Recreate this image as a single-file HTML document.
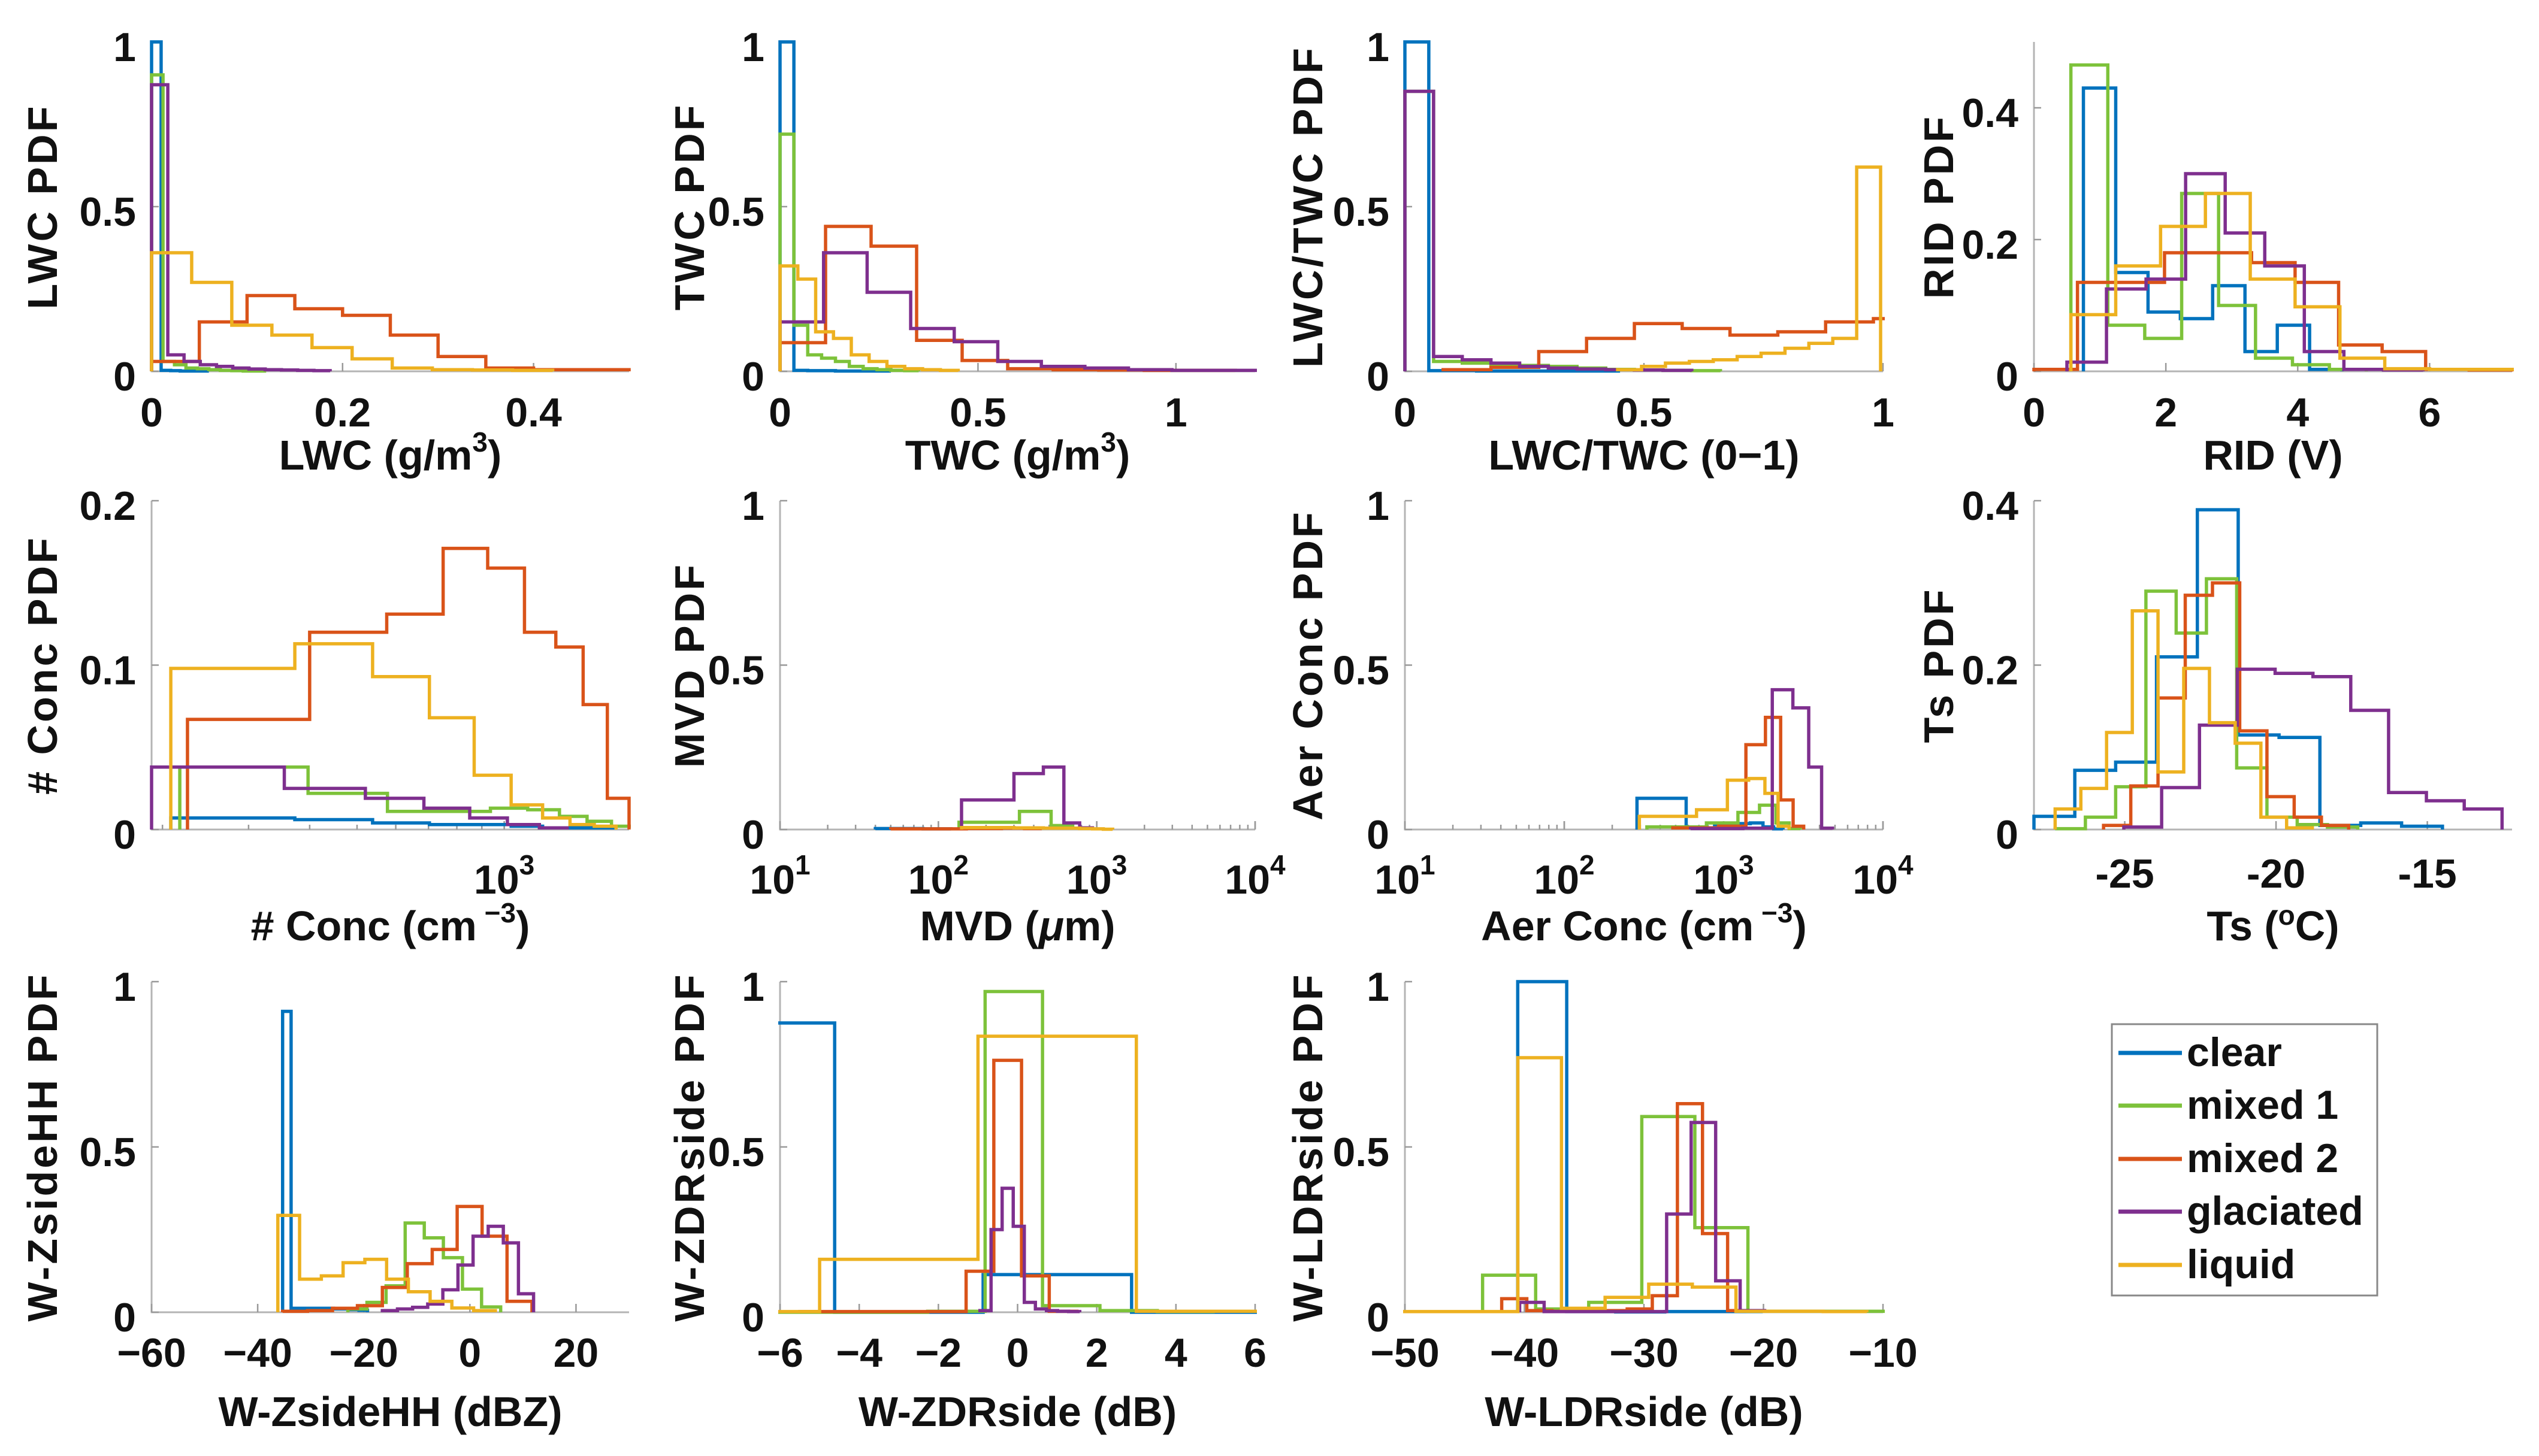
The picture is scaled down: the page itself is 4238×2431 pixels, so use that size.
<!DOCTYPE html>
<html><head><meta charset="utf-8"><title>PDF panels</title>
<style>
html,body{margin:0;padding:0;background:#fff;}
svg{display:block;}
text{font-family:"Liberation Sans",Arial,sans-serif;font-weight:bold;fill:#111;}
</style></head>
<body>
<svg id="fig" width="4238" height="2431" viewBox="0 0 4238 2431" xmlns="http://www.w3.org/2000/svg"></svg>
<script>
// ---------- DATA (order: clear, mixed1, mixed2, glaciated, liquid) ----------
const categories = ['clear','mixed 1','mixed 2','glaciated','liquid'];
// LWC
const lwcBinStart = [0,0,0,0,0];
const lwcBinWidth = [0.01,0.012,0.05,0.017,0.042];
const lwcClear = [1.0,0.003,0.002,0.001,0.001,0.001];
const lwcMixed1 = [0.9,0.03,0.02,0.01,0.008,0.005,0.003,0.002,0.001,0.001];
const lwcMixed2 = [0.03,0.15,0.23,0.19,0.17,0.11,0.045,0.01,0.005,0.005];
const lwcGlaciated = [0.87,0.05,0.03,0.02,0.015,0.01,0.007,0.005,0.004,0.003,0.002];
const lwcLiquid = [0.36,0.27,0.14,0.11,0.072,0.038,0.01,0.005,0.004,0.003];
// TWC
const twcBinStart = [0,0,0,0,0];
const twcBinWidth = [0.035,0.035,0.115,0.11,0.045];
const twcClear = [1.0,0.003,0.002,0.002,0.001,0.001,0.001,0.001];
const twcMixed1 = [0.72,0.14,0.05,0.04,0.03,0.015,0.008,0.005,0.003,0.002];
const twcMixed2 = [0.087,0.44,0.38,0.094,0.033,0.008,0.005,0.004,0.003,0.003];
const twcGlaciated = [0.15,0.36,0.24,0.13,0.09,0.03,0.015,0.01,0.005,0.003,0.003];
const twcLiquid = [0.32,0.28,0.12,0.10,0.05,0.03,0.015,0.008,0.005,0.003];
// LWC/TWC
const ratioBinStart = [0,0,0.08,0,0.445];
const ratioBinWidth = [0.05,0.06,0.1,0.06,0.05];
const ratioClear = [1.0,0.002,0.002,0.001,0.001,0.001,0.001,0.001,0.001];
const ratioMixed1 = [0.85,0.03,0.025,0.02,0.018,0.015,0.01,0.006,0.004,0.003,0.002];
const ratioMixed2 = [0.005,0.012,0.06,0.1,0.145,0.13,0.11,0.12,0.15,0.16];
const ratioGlaciated = [0.85,0.045,0.035,0.025,0.015,0.01,0.007,0.005,0.004,0.003];
const ratioLiquid = [0.005,0.015,0.025,0.03,0.035,0.045,0.055,0.07,0.085,0.1,0.62];
// RID
const ridBinStart = [0.75,0.56,0,0.5,0.56];
const ridBinWidth = [0.49,0.56,0.66,0.6,0.68];
const ridClear = [0.43,0.15,0.09,0.08,0.13,0.03,0.07,0.003];
const ridMixed1 = [0.465,0.07,0.05,0.27,0.1,0.02,0.01,0.003];
const ridMixed2 = [0.003,0.135,0.135,0.18,0.18,0.165,0.135,0.04,0.03,0.003,0.002];
const ridGlaciated = [0.014,0.125,0.14,0.30,0.21,0.16,0.03,0.003,0.002];
const ridLiquid = [0.086,0.16,0.22,0.27,0.14,0.098,0.02,0.004,0.003,0.003];
// # Conc
const concBinStart = [208,217,225,190,208];
const concBinWidth = [165,180,175,165,165];
const concClear = [0.007,0.006,0.004,0.003,0.003,0.002,0.001,0.001,0.001];
const concMixed1 = [0.038,0.022,0.011,0.011,0.013,0.012,0.008,0.005,0.002];
const concMixed2 = [0.067,0.12,0.131,0.171,0.159,0.12,0.111,0.076,0.019];
const concGlaciated = [0.038,0.025,0.019,0.013,0.007,0.003,0.001];
const concLiquid = [0.098,0.113,0.093,0.068,0.033,0.015,0.007,0.003,0.002];
// MVD
const mvdBinStart = [40,135,50,140,140];
const mvdBinWidth = [40,190,100,160,160];
const mvdClear = [0.003,0.002];
const mvdMixed1 = [0.022,0.055,0.012,0.004];
const mvdMixed2 = [0.002,0.003,0.004,0.003];
const mvdGlaciated = [0.09,0.17,0.19,0.02,0.005];
const mvdLiquid = [0.006,0.005,0.004,0.004,0.003,0.002,0.001];
// Aer Conc
const aerBinStart = [286,330,480,620,296];
const aerBinWidth = [296,450,450,700,380];
const aerClear = [0.095,0.005,0.012,0.018,0.02,0.008,0.002];
const aerMixed1 = [0.008,0.02,0.052,0.074,0.02,0.003];
const aerMixed2 = [0.005,0.01,0.258,0.341,0.09,0.01];
const aerGlaciated = [0.003,0.004,0.425,0.37,0.19,0.004];
const aerLiquid = [0.04,0.06,0.15,0.155,0.11,0.01];
// Ts
const tsBinStart = [-28,-27.3,-25.7,-25.03,-27.3];
const tsBinWidth = [1.35,1,0.9,1.25,0.85];
const tsClear = [0.016,0.072,0.082,0.21,0.389,0.115,0.112,0.005,0.008,0.004];
const tsMixed1 = [0.001,0.015,0.052,0.29,0.239,0.305,0.075,0.015,0.006,0.003];
const tsMixed2 = [0.005,0.053,0.16,0.285,0.3,0.12,0.04,0.015,0.005];
const tsGlaciated = [0.003,0.051,0.127,0.195,0.19,0.186,0.145,0.045,0.035,0.025];
const tsLiquid = [0.025,0.05,0.118,0.266,0.07,0.196,0.13,0.105,0.015,0.002];
// W-ZsideHH
const zhhBinStart = [-35.3,-23,-35.3,-16.5,-36.2];
const zhhBinWidth = [1.6,3.6,4.7,2.85,4.1];
const zhhClear = [0.91,0.012,0.012,0.012,0.012,0.012,0.01,0.01,0.008,0.006];
const zhhMixed1 = [0.01,0.03,0.08,0.27,0.225,0.165,0.07,0.016];
const zhhMixed2 = [0.003,0.005,0.012,0.02,0.075,0.147,0.19,0.32,0.23,0.033];
const zhhGlaciated = [0.005,0.01,0.015,0.025,0.068,0.143,0.23,0.26,0.21,0.056];
const zhhLiquid = [0.293,0.1,0.11,0.15,0.16,0.1,0.062,0.033,0.013,0.005];
// W-ZDRside
const zdrBinStart = [-8.37,-6.62,-5.5,-0.95,-9];
const zdrBinWidth = [3.75,1.45,0.7,0.28,4];
const zdrClear = [0.875,0,0.114,0];
const zdrMixed1 = [0,0,0,0.003,0.97,0.02,0.005,0.002];
const zdrMixed2 = [0.002,0.002,0.002,0.002,0.002,0.002,0.124,0.762,0.11,0.003];
const zdrGlaciated = [0.005,0.25,0.375,0.26,0.03,0.01,0.005,0.003,0.002];
const zdrLiquid = [0.002,0.16,0.835,0.003];
// W-LDRside
const ldrBinStart = [-40.56,-43.5,-41.9,-40.4,-51.5];
const ldrBinWidth = [4.1,4.44,2.1,2.05,3.65];
const ldrClear = [1.0,0.002,0.001,0.002,0.002];
const ldrMixed1 = [0.112,0.01,0.03,0.592,0.256,0.003,0.003,0.003];
const ldrMixed2 = [0.041,0.005,0.003,0.003,0.005,0.01,0.05,0.631,0.238,0.005];
const ldrGlaciated = [0.03,0.002,0.002,0.002,0.002,0.002,0.297,0.574,0.095,0.005];
const ldrLiquid = [0.002,0.002,0.002,0.77,0.012,0.045,0.085,0.076,0.003,0.003,0.002];

// tick label arrays
const ticksLwc = [0,0.2,0.4];
const ticksTwc = [0,0.5,1];
const ticksRatio = [0,0.5,1];
const ticksRid = [0,2,4,6];
const ticksConc = [1000];
const ticksLog = [10,100,1000,10000];
const ticksTs = [-25,-20,-15];
const ticksZhh = [-60,-40,-20,0,20];
const ticksZdr = [-6,-4,-2,0,2,4,6];
const ticksLdr = [-50,-40,-30,-20,-10];
const yTicks1 = [0,0.5,1];
const yTicksRid = [0,0.2,0.4];
const yTicksConc = [0,0.1,0.2];

// ---------- STYLE / LAYOUT ----------
const COLORS = ['#0072BD','#7DC23A','#D95319','#7E2F8E','#EDB120'];
const NS = 'http://www.w3.org/2000/svg';
const svg = document.getElementById('fig');
const COLS = [[253,1050],[1302,2095],[2345,3143],[3395,4193]];
const ROWS = [[70,620],[836,1385],[1639,2191]];
const YLABX = [70,1150,2182,3235];
const TICKOFF = [68,73,67];
const LABOFF = [139,160,165];

function el(tag, parent){ const e=document.createElementNS(NS,tag); parent.appendChild(e); return e; }
function fmt(v, minusHyphen){
  let s = String(v);
  if (v<0) s = (minusHyphen?'-':'\u2212') + String(-v);
  return s;
}

const panels = [
 {id:'lwc', r:0,c:0, xlim:[0,0.5], ylim:[0,1], xt:ticksLwc, yt:yTicks1, start:lwcBinStart, width:lwcBinWidth, series:[lwcClear,lwcMixed1,lwcMixed2,lwcGlaciated,lwcLiquid], xl:'LWC (g/m<tspan dy="-30" font-size="46">3</tspan><tspan dy="30">)</tspan>', yl:'LWC PDF'},
 {id:'twc', r:0,c:1, xlim:[0,1.2], ylim:[0,1], xt:ticksTwc, yt:yTicks1, start:twcBinStart, width:twcBinWidth, series:[twcClear,twcMixed1,twcMixed2,twcGlaciated,twcLiquid], xl:'TWC (g/m<tspan dy="-30" font-size="46">3</tspan><tspan dy="30">)</tspan>', yl:'TWC PDF'},
 {id:'ratio', r:0,c:2, xlim:[0,1], ylim:[0,1], xt:ticksRatio, yt:yTicks1, start:ratioBinStart, width:ratioBinWidth, series:[ratioClear,ratioMixed1,ratioMixed2,ratioGlaciated,ratioLiquid], xl:'LWC/TWC (0\u22121)', yl:'LWC/TWC PDF'},
 {id:'rid', r:0,c:3, xlim:[0,7.25], ylim:[0,0.5], xt:ticksRid, yt:yTicksRid, start:ridBinStart, width:ridBinWidth, series:[ridClear,ridMixed1,ridMixed2,ridGlaciated,ridLiquid], xl:'RID (V)', yl:'RID PDF'},
 {id:'conc', r:1,c:0, xlim:[190,1800], log:true, ylim:[0,0.2], xt:ticksConc, yt:yTicksConc, start:concBinStart, width:concBinWidth, series:[concClear,concMixed1,concMixed2,concGlaciated,concLiquid], xl:'# Conc (cm<tspan dy="-30" font-size="46"> \u22123</tspan><tspan dy="30">)</tspan>', yl:'# Conc PDF'},
 {id:'mvd', r:1,c:1, xlim:[10,10000], log:true, ylim:[0,1], xt:ticksLog, yt:yTicks1, start:mvdBinStart, width:mvdBinWidth, series:[mvdClear,mvdMixed1,mvdMixed2,mvdGlaciated,mvdLiquid], xl:'MVD (<tspan font-style="italic">\u03bc</tspan>m)', yl:'MVD PDF'},
 {id:'aer', r:1,c:2, xlim:[10,10000], log:true, ylim:[0,1], xt:ticksLog, yt:yTicks1, start:aerBinStart, width:aerBinWidth, series:[aerClear,aerMixed1,aerMixed2,aerGlaciated,aerLiquid], xl:'Aer Conc (cm<tspan dy="-30" font-size="46"> \u22123</tspan><tspan dy="30">)</tspan>', yl:'Aer Conc PDF'},
 {id:'ts', r:1,c:3, xlim:[-28,-12.2], ylim:[0,0.4], xt:ticksTs, yt:yTicksRid, hyphen:true, start:tsBinStart, width:tsBinWidth, series:[tsClear,tsMixed1,tsMixed2,tsGlaciated,tsLiquid], xl:'Ts (<tspan dy="-26" font-size="46">o</tspan><tspan dy="26">C)</tspan>', yl:'Ts PDF'},
 {id:'zhh', r:2,c:0, xlim:[-60,30], ylim:[0,1], xt:ticksZhh, yt:yTicks1, start:zhhBinStart, width:zhhBinWidth, series:[zhhClear,zhhMixed1,zhhMixed2,zhhGlaciated,zhhLiquid], xl:'W-ZsideHH (dBZ)', yl:'W-ZsideHH PDF'},
 {id:'zdr', r:2,c:1, xlim:[-6,6], ylim:[0,1], xt:ticksZdr, yt:yTicks1, start:zdrBinStart, width:zdrBinWidth, series:[zdrClear,zdrMixed1,zdrMixed2,zdrGlaciated,zdrLiquid], xl:'W-ZDRside (dB)', yl:'W-ZDRside PDF'},
 {id:'ldr', r:2,c:2, xlim:[-50,-10], ylim:[0,1], xt:ticksLdr, yt:yTicks1, start:ldrBinStart, width:ldrBinWidth, series:[ldrClear,ldrMixed1,ldrMixed2,ldrGlaciated,ldrLiquid], xl:'W-LDRside (dB)', yl:'W-LDRside PDF'}
];

panels.forEach(p=>{
  const L=COLS[p.c][0], R=COLS[p.c][1], T=ROWS[p.r][0], B=ROWS[p.r][1];
  const tx = v => p.log ? Math.log10(Math.max(v,1e-9)) : v;
  const x0 = tx(p.xlim[0]), x1 = tx(p.xlim[1]);
  const sx = v => L + (tx(v) - x0)/(x1-x0)*(R-L);
  const sy = v => B - (v - p.ylim[0])/(p.ylim[1]-p.ylim[0])*(B-T);
  const g = el('g', svg);
  
  

  const cp = el('clipPath', g); cp.setAttribute('id','clip-'+p.id);
  const cr = el('rect', cp);
  cr.setAttribute('x', L-3); cr.setAttribute('y', T-10); cr.setAttribute('width', R-L+6); cr.setAttribute('height', B-T+14);

  const ax = el('path', g);
  
  
  ax.setAttribute('d', `M${L},${T} L${L},${B} L${R},${B}`);
  ax.setAttribute('fill','none'); ax.setAttribute('stroke','#b4b4b4'); ax.setAttribute('stroke-width','3');

  let minor = [];
  if (p.log) {
    for (let e=Math.floor(x0); e<=Math.ceil(x1); e++) for (let m=1;m<10;m++){ const v=m*Math.pow(10,e); if (v>=p.xlim[0] && v<=p.xlim[1]) minor.push(v); }
  }
  minor.concat(p.xt).forEach(v=>{
    if (v<p.xlim[0]||v>p.xlim[1]) return;
    const t = el('line', g);
    t.setAttribute('x1', sx(v)); t.setAttribute('x2', sx(v)); t.setAttribute('y1', B); t.setAttribute('y2', B-(minor.includes(v)&&!p.xt.includes(v)?8:14));
    t.setAttribute('stroke','#999'); t.setAttribute('stroke-width','2.5');
  });
  p.xt.forEach(v=>{
    const t = el('text', g);
    
    
    t.setAttribute('x', sx(v)); t.setAttribute('text-anchor','middle'); t.setAttribute('font-size','68');
    if (p.log) {
      t.setAttribute('y', B+TICKOFF[p.r]+34);
      t.innerHTML = '10<tspan dy="-32" font-size="46">'+Math.round(Math.log10(v))+'</tspan>';
    } else {
      t.setAttribute('y', B+TICKOFF[p.r]+24);
      t.textContent = fmt(v, p.hyphen);
    }
  });
  p.yt.forEach(v=>{
    const t = el('line', g);
    t.setAttribute('x1', L); t.setAttribute('x2', L+12); t.setAttribute('y1', sy(v)); t.setAttribute('y2', sy(v));
    t.setAttribute('stroke','#999'); t.setAttribute('stroke-width','2.5');
    const tl = el('text', g);
    
    
    tl.setAttribute('x', L-26); tl.setAttribute('y', sy(v)+32); tl.setAttribute('text-anchor','end'); tl.setAttribute('font-size','68');
    tl.textContent = String(v);
  });
  const xl = el('text', g);
  
  
  xl.setAttribute('x', (L+R)/2); xl.setAttribute('y', B+LABOFF[p.r]+25); xl.setAttribute('text-anchor','middle'); xl.setAttribute('font-size','70');
  xl.innerHTML = p.xl;
  const yl = el('text', g);
  
  
  const yc=(T+B)/2;
  yl.setAttribute('x', YLABX[p.c]); yl.setAttribute('y', yc+25); yl.setAttribute('text-anchor','middle'); yl.setAttribute('font-size','70');
  yl.setAttribute('letter-spacing','4');
  yl.setAttribute('transform', `rotate(-90 ${YLABX[p.c]} ${yc})`);
  yl.textContent = p.yl;

  const sg = el('g', g); sg.setAttribute('clip-path', `url(#clip-${p.id})`);
  p.series.forEach((vals, k)=>{
    const s0 = p.start[k], w = p.width[k];
    let d = `M${sx(s0)},${sy(0)}`;
    vals.forEach((v,i)=>{
      const a = s0 + i*w, b = a + w;
      d += ` L${sx(a)},${sy(v)} L${sx(b)},${sy(v)}`;
    });
    d += ` L${sx(s0+vals.length*w)},${sy(0)}`;
    const path = el('path', sg);
    
    
    path.setAttribute('d', d);
    path.setAttribute('fill','none'); path.setAttribute('stroke', COLORS[k]);
    path.setAttribute('stroke-width','5.5'); path.setAttribute('stroke-linejoin','miter');
  });
});

const lg = el('g', svg);


const box = el('rect', lg);
box.setAttribute('x',3525); box.setAttribute('y',1710); box.setAttribute('width',443); box.setAttribute('height',453);
box.setAttribute('fill','#fff'); box.setAttribute('stroke','#888'); box.setAttribute('stroke-width','3');
const legY = [1758,1846,1935,2023,2112];
categories.forEach((c,k)=>{
  const ln = el('line', lg);
  
  
  ln.setAttribute('x1',3536); ln.setAttribute('x2',3642); ln.setAttribute('y1',legY[k]); ln.setAttribute('y2',legY[k]);
  ln.setAttribute('stroke', COLORS[k]); ln.setAttribute('stroke-width','7');
  const t = el('text', lg);
  
  
  t.setAttribute('x',3650); t.setAttribute('y',legY[k]+22); t.setAttribute('font-size','68');
  t.textContent = c;
});
</script>
</body></html>
